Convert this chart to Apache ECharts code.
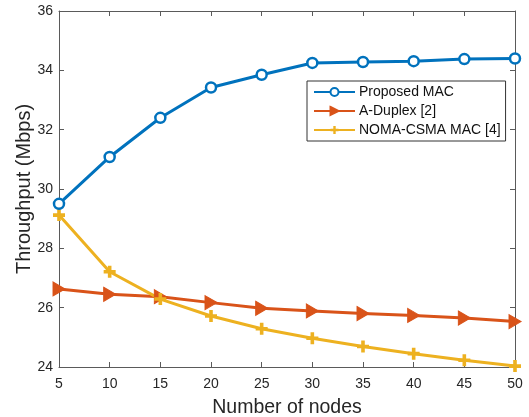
<!DOCTYPE html>
<html><head><meta charset="utf-8">
<script src="https://cdn.jsdelivr.net/npm/echarts@6/dist/echarts.min.js"></script>
<style>html,body{margin:0;padding:0;background:#fff}#c{width:529px;height:417px}</style>
</head><body><div id="c"></div>
<script>
const nodes = [5, 10, 15, 20, 25, 30, 35, 40, 45, 50];
const proposedMAC = [29.5, 31.08, 32.4, 33.42, 33.85, 34.25, 34.28, 34.31, 34.38, 34.4];
const aDuplex = [26.63, 26.45, 26.37, 26.17, 25.98, 25.89, 25.80, 25.74, 25.65, 25.53];
const nomaCsma = [29.12, 27.21, 26.29, 25.72, 25.29, 24.97, 24.69, 24.45, 24.23, 24.03];
const seriesNames = ['Proposed MAC', 'A-Duplex [2]', 'NOMA-CSMA MAC [4]'];
const xTitle = 'Number of nodes';
const yTitle = 'Throughput (Mbps)';

const pair = arr => nodes.map((x, i) => [x, arr[i]]);
const axisCol = '#5a5a5a';
const font = 'Liberation Sans, Arial, sans-serif';
const triPath = 'path://M0,0 L10,6 L0,12 Z';
const plusPath = 'path://M3.5,0 H6.5 V3.5 H10 V6.5 H6.5 V10 H3.5 V6.5 H0 V3.5 H3.5 Z';

const chart = echarts.init(document.getElementById('c'), null, {renderer: 'canvas'});
const baseAxis = {
  axisLine: {show: true, onZero: false, lineStyle: {color: axisCol, width: 1}},
  axisTick: {show: true, inside: true, length: 5, lineStyle: {color: axisCol}},
  splitLine: {show: false},
};
chart.setOption({
  animation: false,
  backgroundColor: '#fff',
  grid: {left: 59, right: 14, top: 11, bottom: 50, containLabel: false, outerBoundsMode: 'none'},
  legend: {
    data: seriesNames,
    orient: 'vertical',
    left: 307, top: 81,
    itemWidth: 41, itemHeight: 10, itemGap: 5,
    padding: [4, 5, 4, 6],
    borderColor: '#333', borderWidth: 1,
    backgroundColor: '#fff',
    textStyle: {fontFamily: font, fontSize: 14, color: '#111', padding: [0, 0, 0, -1]},
  },
  xAxis: [
    Object.assign({}, baseAxis, {
      type: 'value', min: 5, max: 50, interval: 5, position: 'bottom',
      name: xTitle, nameLocation: 'middle', nameGap: 31, nameMoveOverlap: false,
      nameTextStyle: {fontFamily: font, fontSize: 19.5, color: '#262626'},
      axisLabel: {fontFamily: font, fontSize: 14, color: '#262626', margin: 10},
    }),
    Object.assign({}, baseAxis, {
      type: 'value', min: 5, max: 50, interval: 5, position: 'top',
      axisLabel: {show: false},
    }),
  ],
  yAxis: [
    Object.assign({}, baseAxis, {
      type: 'value', min: 24, max: 36, interval: 2, position: 'left',
      name: yTitle, nameLocation: 'middle', nameGap: 25, nameMoveOverlap: false,
      nameTextStyle: {fontFamily: font, fontSize: 20, color: '#262626'},
      axisLabel: {fontFamily: font, fontSize: 14, color: '#262626', margin: 6},
    }),
    Object.assign({}, baseAxis, {
      type: 'value', min: 24, max: 36, interval: 2, position: 'right',
      axisLabel: {show: false},
    }),
  ],
  series: [
    {
      name: seriesNames[0], type: 'line', data: pair(proposedMAC),
      symbol: 'circle', symbolSize: 10,
      itemStyle: {color: '#fff', borderColor: '#0072BD', borderWidth: 2.5},
      lineStyle: {color: '#0072BD', width: 3},
      color: '#0072BD', z: 3,
    },
    {
      name: seriesNames[1], type: 'line', data: pair(aDuplex),
      symbol: triPath, symbolSize: [12, 14],
      itemStyle: {color: '#D95319', borderColor: '#D95319', borderWidth: 1},
      lineStyle: {color: '#D95319', width: 3},
      color: '#D95319', z: 2,
    },
    {
      name: seriesNames[2], type: 'line', data: pair(nomaCsma),
      symbol: plusPath, symbolSize: 12,
      itemStyle: {color: '#EDB120', borderColor: '#EDB120', borderWidth: 0},
      lineStyle: {color: '#EDB120', width: 3},
      color: '#EDB120', z: 2,
    },
  ],
});
</script></body></html>
